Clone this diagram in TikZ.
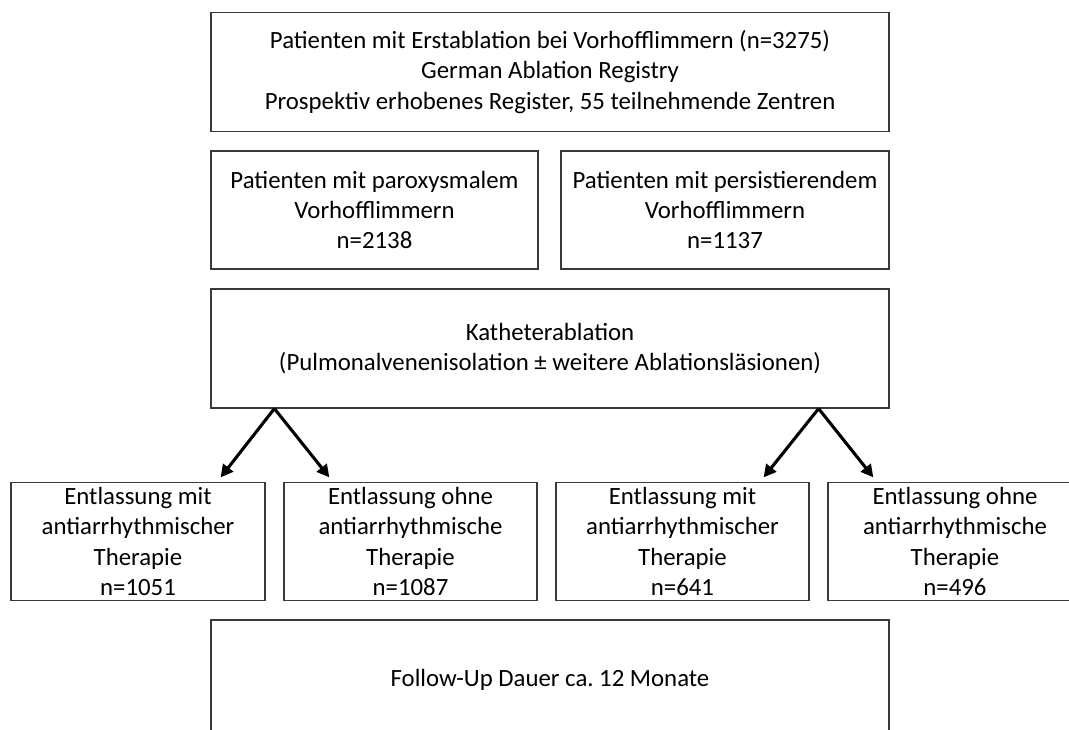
\documentclass[tikz,border=0pt]{standalone}
\usepackage{fontspec}
\setmainfont{Carlito}
\usetikzlibrary{arrows.meta,calc}
\definecolor{boxline}{HTML}{3A3A3A}
\begin{document}
\begin{tikzpicture}[x=1pt,y=-1pt,
  box/.style={draw=boxline, line width=1.2pt, rectangle, inner sep=0pt, align=center,
    font=\fontsize{24.8}{30.3}\selectfont, text=black},
  wide/.style={box, minimum width=678pt},
  small/.style={box, minimum width=254pt, minimum height=118pt},
  arr/.style={line width=3.1pt, black, -{Triangle[length=12.5pt,width=12.5pt]}}]
\useasboundingbox (0,0) rectangle (1069,729);
\fill[white] (0,0) rectangle (1069,729);
\node[wide, minimum height=119pt] (top) at (550,72) {Patienten mit Erstablation bei Vorhofflimmern (n=3275)\\German Ablation Registry\\Prospektiv erhobenes Register, 55 teilnehmende Zentren};
\node[box, minimum width=327pt, minimum height=118pt] (parox) at (374.5,210) {Patienten mit paroxysmalem\\Vorhofflimmern\\n=2138};
\node[box, minimum width=328pt, minimum height=118pt] (pers) at (725,210) {Patienten mit persistierendem\\Vorhofflimmern\\n=1137};
\node[wide, minimum height=119pt] (kat) at (550,348.5) {Katheterablation\\(Pulmonalvenenisolation ± weitere Ablationsläsionen)};
\node[small] (a) at (138,541.5) {Entlassung mit\\antiarrhythmischer\\Therapie\\n=1051};
\node[small, minimum width=253pt] (b) at (410.5,541.5) {Entlassung ohne\\antiarrhythmische\\Therapie\\n=1087};
\node[small, minimum width=253pt] (c) at (682.5,541.5) {Entlassung mit\\antiarrhythmischer\\Therapie\\n=641};
\node[small] (d) at (955,541.5) {Entlassung ohne\\antiarrhythmische\\Therapie\\n=496};
\node[wide, minimum height=120pt] (fu) at (550,680) {Follow-Up Dauer ca.\ 12 Monate};
\coordinate (o1) at ($(kat.south west)+(64,0)$);
\coordinate (o2) at ($(kat.south east)+(-71,0)$);
\coordinate (t1) at ($(a.north east)+(-45,-4.5)$);
\coordinate (t2) at ($(b.north west)+(46,-4.5)$);
\coordinate (t3) at ($(c.north east)+(-46,-4.5)$);
\coordinate (t4) at ($(d.north west)+(46,-4.5)$);
\draw[arr] (o1) -- (t1);
\draw[arr] (o1) -- (t2);
\draw[arr] (o2) -- (t3);
\draw[arr] (o2) -- (t4);
\end{tikzpicture}
\end{document}
